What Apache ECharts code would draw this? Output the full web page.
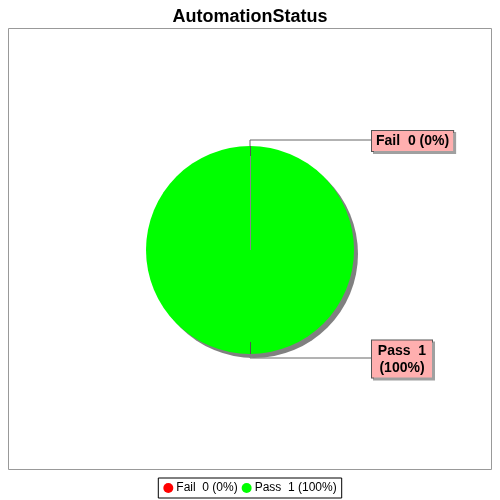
<!DOCTYPE html>
<html>
<head>
<meta charset="utf-8">
<script src="https://cdn.jsdelivr.net/npm/echarts@6/dist/echarts.min.js"></script>
<style>
  html, body { margin: 0; padding: 0; background: #fff; }
  #chart { width: 500px; height: 500px; }
</style>
</head>
<body>
<div id="chart"></div>
<script>
// data
const categories = ['Fail', 'Pass'];
const counts = [0, 1];
const colors = ['#ff0000', '#00ff00'];
const wrapLabel = [false, true];

// layout
const CX = 250, CY = 250, R = 104;
const LABEL_LEFT = 371;

const total = counts.reduce((a, b) => a + b, 0);
function pct(v) { return total ? Math.round(v / total * 100) : 0; }

const chart = echarts.init(document.getElementById('chart'), null, { renderer: 'canvas' });

const labelFont = {
  fontFamily: 'Liberation Sans, Arial, sans-serif',
  fontSize: 14,
  fontWeight: 'bold',
  color: '#000',
  lineHeight: 17
};

chart.setOption({
  backgroundColor: '#ffffff',
  animation: false,
  title: {
    text: 'AutomationStatus',
    left: 'center',
    top: 3,
    textStyle: { fontFamily: 'Liberation Sans, Arial, sans-serif', fontSize: 18, fontWeight: 'bold', color: '#000' }
  },
  graphic: [{
    type: 'rect',
    shape: { x: 8.5, y: 28.5, width: 483, height: 441 },
    style: { fill: 'none', stroke: '#999999', lineWidth: 1 },
    silent: true,
    z: -1
  }, {
    // outline of the zero-size Fail slice and the leader stubs inside the pie
    type: 'line',
    shape: { x1: CX + 0.5, y1: CY, x2: CX + 0.5, y2: CY - R },
    style: { stroke: '#888888', lineWidth: 1 },
    silent: true,
    z: 10
  }, {
    type: 'line',
    shape: { x1: CX + 0.5, y1: CY - R, x2: CX + 0.5, y2: CY - R + 10 },
    style: { stroke: '#555555', lineWidth: 1 },
    silent: true,
    z: 10
  }, {
    type: 'line',
    shape: { x1: CX + 0.5, y1: CY + R - 12, x2: CX + 0.5, y2: CY + R },
    style: { stroke: '#555555', lineWidth: 1 },
    silent: true,
    z: 10
  }],
  legend: {
    bottom: 2,
    left: 'center',
    orient: 'horizontal',
    icon: 'circle',
    itemWidth: 10,
    itemHeight: 10,
    itemGap: 4,
    padding: [4, 5, 4, 5],
    borderColor: '#000',
    borderWidth: 1,
    borderRadius: 0,
    textStyle: { fontFamily: 'Liberation Sans, Arial, sans-serif', fontSize: 12, color: '#000', padding: [0, 0, 0, -2] },
    data: categories,
    formatter: function (name) {
      const i = categories.indexOf(name);
      return name + '  ' + counts[i] + ' (' + pct(counts[i]) + '%)';
    }
  },
  series: [{
    type: 'pie',
    center: [CX, CY],
    radius: R,
    startAngle: 90,
    clockwise: true,
    avoidLabelOverlap: false,
    itemStyle: {
      borderWidth: 0,
      shadowColor: '#808080',
      shadowOffsetX: 4,
      shadowOffsetY: 4,
      shadowBlur: 0
    },
    label: {
      show: true,
      color: '#000',
      backgroundColor: '#ffafaf',
      borderColor: '#555555',
      borderWidth: 1,
      padding: [2, 4, 1, 4],
      shadowColor: '#a0a0a0',
      shadowOffsetX: 2,
      shadowOffsetY: 2,
      shadowBlur: 0,
      rich: {
        t: Object.assign({}, labelFont),
        w: Object.assign({ width: 52, align: 'center' }, labelFont)
      },
      formatter: function (p) {
        const i = p.dataIndex;
        const a = p.name + '  ' + p.value;
        const b = '(' + pct(p.value) + '%)';
        return wrapLabel[i] ? '{w|' + a + '}\n{w|' + b + '}' : '{t|' + a + ' ' + b + '}';
      }
    },
    labelLine: {
      show: true,
      lineStyle: { color: '#666666', width: 1 }
    },
    labelLayout: function (params) {
      const i = params.dataIndex;
      const w = params.labelRect.width;
      const ey = i === 0 ? CY - R - 6 : CY + R + 4;
      return {
        x: LABEL_LEFT + w / 2,
        y: ey + 1,
        align: 'center',
        verticalAlign: 'middle',
        labelLinePoints: [[CX, i === 0 ? CY - R : CY + R], [CX, ey], [LABEL_LEFT, ey]]
      };
    },
    data: categories.map((c, i) => ({ name: c, value: counts[i], itemStyle: { color: colors[i] } }))
  }]
});
</script>
</body>
</html>
